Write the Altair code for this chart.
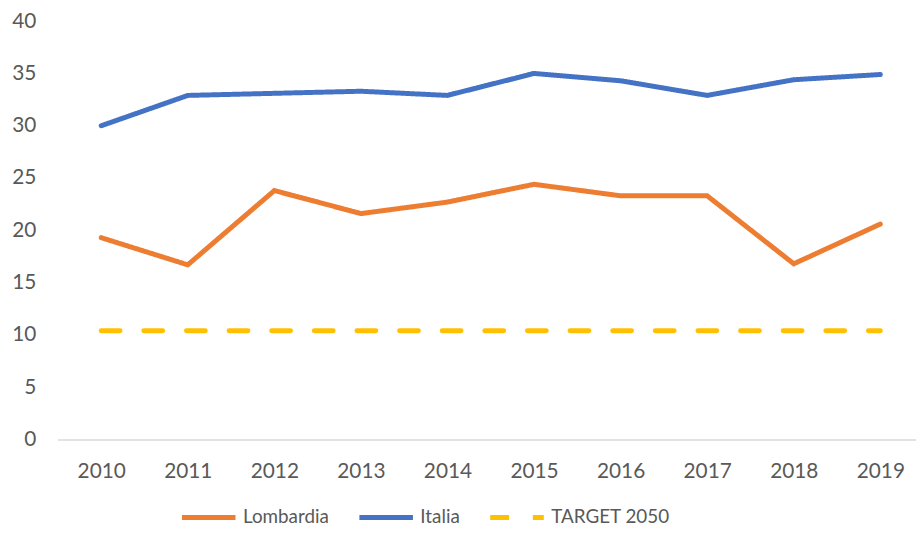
import altair as alt
import pandas as pd

years = [2010, 2011, 2012, 2013, 2014, 2015, 2016, 2017, 2018, 2019]
lombardia = [19.3, 16.7, 23.8, 21.6, 22.7, 24.4, 23.3, 23.3, 16.8, 20.6]
italia = [30.0, 32.9, 33.1, 33.3, 32.9, 35.0, 34.3, 32.9, 34.4, 34.9]
target = [10.4] * 10

series = ["Lombardia", "Italia", "TARGET 2050"]
colors = ["#ED7D31", "#4472C4", "#FFC000"]
dashes = [[1, 0], [1, 0], [19, 24]]
y_ticks = [0, 5, 10, 15, 20, 25, 30, 35, 40]

rows = []
for name, vals in zip(series, [lombardia, italia, target]):
    for yr, v in zip(years, vals):
        rows.append({"anno": yr, "valore": v, "serie": name})
df = pd.DataFrame(rows)

FONT = "Lato"
TXT = "#595959"

legend = alt.Legend(
    title=None,
    orient="none",
    direction="horizontal",
    legendX=123,
    legendY=471,
    padding=0,
    symbolType="stroke",
    symbolSize=2916,
    symbolStrokeWidth=5,
    labelFont=FONT,
    labelFontSize=19,
    labelColor=TXT,
    labelOffset=5,
    columnPadding=20,
)

chart = alt.Chart(df).mark_line(strokeWidth=5, strokeCap="round", strokeJoin="miter").encode(
    x=alt.X(
        "anno:Q",
        scale=alt.Scale(domain=[2009.496, 2019.412], nice=False, zero=False),
        axis=alt.Axis(
            title=None, values=years, format="d", grid=False, ticks=False,
            domainColor="#D9D9D9", domainWidth=1.5,
            labelFont=FONT, labelFontSize=21, labelColor=TXT, labelPadding=21,
        ),
    ),
    y=alt.Y(
        "valore:Q",
        scale=alt.Scale(domain=[0, 40], nice=False),
        axis=alt.Axis(
            title=None, values=y_ticks, grid=False, ticks=False, domain=False,
            labelFont=FONT, labelFontSize=21, labelColor=TXT, labelPadding=22,
        ),
    ),
    color=alt.Color("serie:N", scale=alt.Scale(domain=series, range=colors), legend=legend),
    strokeDash=alt.StrokeDash("serie:N", scale=alt.Scale(domain=series, range=dashes), legend=legend),
).properties(
    width=866,
    height=422,
    autosize=alt.AutoSizeParams(type="none"),
    padding={"left": 50, "top": 11, "right": 0, "bottom": 86},
).configure_view(stroke=None)

chart.save("out.html", embed_options={"renderer": "svg", "actions": False})
